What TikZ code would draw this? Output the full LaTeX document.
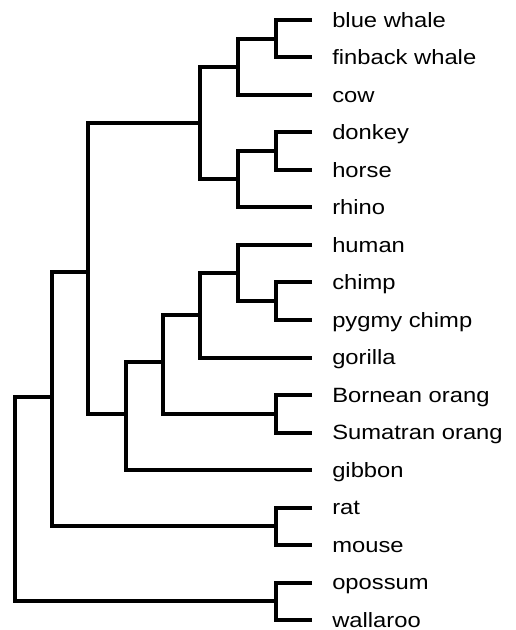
\documentclass[tikz,border=0pt]{standalone}
\usepackage{fontspec}
\setmainfont{Liberation Sans}[FakeStretch=1.15]
\usepackage{tikz}

\begin{document}
\begin{tikzpicture}[x=0.75pt, y=-0.75pt,
		branch/.style={line width=3pt, black},
		leaf/.style={anchor=west, inner xsep=15pt, inner ysep=0pt, text height=11pt, text depth=0pt, font=\fontsize{15.5pt}{18pt}\selectfont}]
		% Frame of the page
		\useasboundingbox (0,0) rectangle (515,630);

		% Leaves: one taxon per row
		\node[leaf] (bluewhale) at (312,20) {blue whale};
		\node[leaf] (finback)   at (312,57.5) {finback whale};
		\node[leaf] (cow)       at (312,95) {cow};
		\node[leaf] (donkey)    at (312,132.5) {donkey};
		\node[leaf] (horse)     at (312,170) {horse};
		\node[leaf] (rhino)     at (312,207.5) {rhino};
		\node[leaf] (human)     at (312,245) {human};
		\node[leaf] (chimp)     at (312,282.5) {chimp};
		\node[leaf] (pygmy)     at (312,320) {pygmy chimp};
		\node[leaf] (gorilla)   at (312,357.5) {gorilla};
		\node[leaf] (bornean)   at (312,395) {Bornean orang};
		\node[leaf] (sumatran)  at (312,432.5) {Sumatran orang};
		\node[leaf] (gibbon)    at (312,470) {gibbon};
		\node[leaf] (rat)       at (312,507.5) {rat};
		\node[leaf] (mouse)     at (312,545) {mouse};
		\node[leaf] (opossum)   at (312,582.5) {opossum};
		\node[leaf] (wallaroo)  at (312,620) {wallaroo};

		% Internal nodes (x = depth, y = middle of the children)
		\coordinate (whales)    at (276,38.75);
		\coordinate (whcow)     at (238,66.9);
		\coordinate (equids)    at (276,151.25);
		\coordinate (perisso)   at (238,179.4);
		\coordinate (ungul)     at (200,123.1);
		\coordinate (chimps)    at (276,301.25);
		\coordinate (homo)      at (238,273.1);
		\coordinate (african)   at (200,315.3);
		\coordinate (orangs)    at (276,413.75);
		\coordinate (great)     at (163,362);
		\coordinate (apes)      at (126,414);
		\coordinate (boreo)     at (88,272);
		\coordinate (rodents)   at (276,526.25);
		\coordinate (placental) at (52,397);
		\coordinate (marsup)    at (276,601.25);
		\coordinate (root)      at (15,499);

		% Branches: ungulates
		\draw[branch] (bluewhale.west) -| (whales) |- (finback.west);
		\draw[branch] (whales) -| (whcow) |- (cow.west);
		\draw[branch] (donkey.west) -| (equids) |- (horse.west);
		\draw[branch] (equids) -| (perisso) |- (rhino.west);
		\draw[branch] (whcow) -| (ungul) |- (perisso);

		% Branches: primates
		\draw[branch] (chimp.west) -| (chimps) |- (pygmy.west);
		\draw[branch] (human.west) -| (homo) |- (chimps);
		\draw[branch] (homo) -| (african) |- (gorilla.west);
		\draw[branch] (bornean.west) -| (orangs) |- (sumatran.west);
		\draw[branch] (african) -| (great) |- (orangs);
		\draw[branch] (great) -| (apes) |- (gibbon.west);

		% Branches: the rest down to the root
		\draw[branch] (ungul) -| (boreo) |- (apes);
		\draw[branch] (rat.west) -| (rodents) |- (mouse.west);
		\draw[branch] (boreo) -| (placental) |- (rodents);
		\draw[branch] (opossum.west) -| (marsup) |- (wallaroo.west);
		\draw[branch] (placental) -| (root) |- (marsup);
	\end{tikzpicture}
\end{document}
